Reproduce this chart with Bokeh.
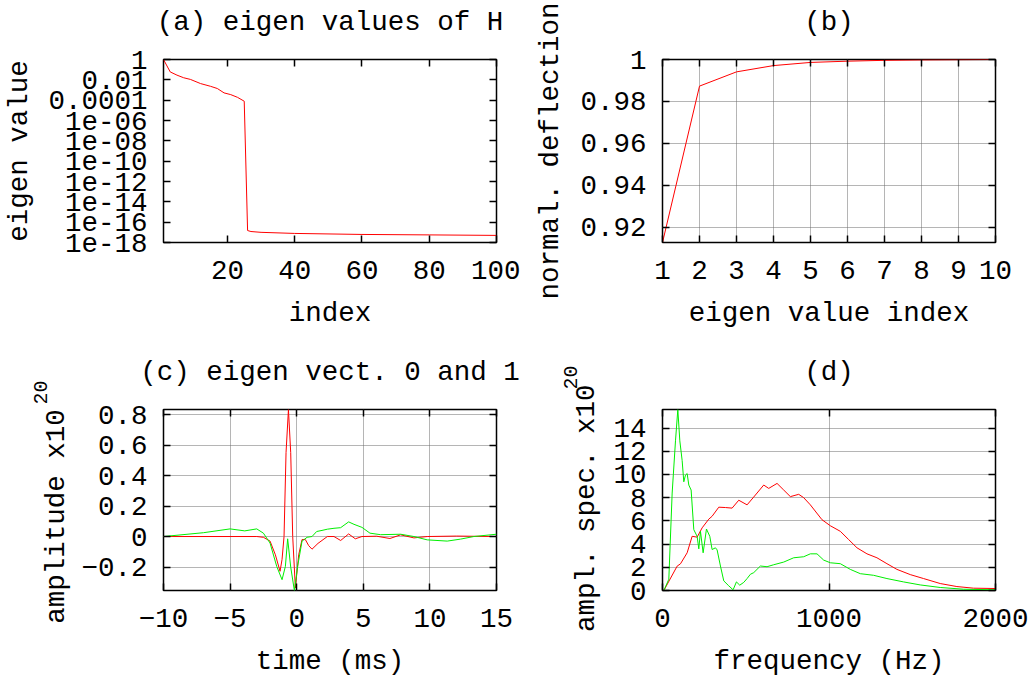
from bokeh.plotting import figure
from bokeh.models import (FixedTicker, LinearAxis, LogAxis, Range1d, Title,
                          BasicTickFormatter)
from bokeh.layouts import gridplot
from bokeh.embed import file_html
from bokeh.resources import INLINE

# ---------------- data ----------------
# (a) eigen values of H
a_index = [1, 3, 5, 7, 9, 12, 15, 17, 19, 21, 23, 25, 26, 27, 30, 40, 60, 80, 100]
a_value = [1.0, 0.06, 0.029, 0.016, 0.011, 0.0043, 0.0023, 0.0014, 5.2e-4, 3.5e-4,
           1.9e-4, 7.9e-5, 1.5e-17, 1.2e-17, 1.0e-17, 7.8e-18, 6.2e-18, 5.6e-18, 5.0e-18]

# (b) normalised deflection
b_index = [1, 2, 3, 4, 5, 6, 7, 8, 9, 10]
b_defl = [0.9127, 0.9873, 0.9941, 0.9971, 0.9986, 0.9992, 0.9996, 0.9998, 0.9999, 1.0]

# (c) eigen vectors 0 (red) and 1 (green)
c_time_0 = [-10, -3, -2.5, -2.0, -1.6, -1.25, -1.1, -0.95, -0.8, -0.62, -0.45, -0.3,
            -0.1, 0.15, 0.4, 0.65, 0.9, 1.15, 1.6, 2.3, 2.8, 3.3, 3.9, 4.4, 4.9,
            6.0, 7.0, 7.8, 8.8, 9.8, 12, 15]
c_amp_0 = [0, 0, -0.005, -0.03, -0.12, -0.228, -0.15, 0.0, 0.55, 0.833, 0.55, 0.0,
           -0.337, -0.12, -0.02, -0.02, -0.06, -0.083, -0.045, 0.0, 0.0, -0.026, 0.017,
           -0.015, 0.0, 0.002, -0.013, 0.011, -0.009, 0.0, 0.003, 0.0]
c_time_1 = [-10, -7, -5, -3.9, -3.0, -2.5, -2.0, -1.5, -1.1, -0.85, -0.68, -0.45,
            -0.175, 0.1, 0.4, 0.78, 1.15, 1.5, 1.9, 2.3, 2.8, 3.3, 3.9, 4.3, 4.9,
            5.5, 6.3, 7.8, 8.8, 9.8, 11.3, 12.3, 13.3, 15]
c_amp_1 = [0, 0.025, 0.05, 0.037, 0.05, 0.022, -0.043, -0.196, -0.283, -0.196,
           -0.015, -0.2, -0.354, -0.18, -0.03, -0.005, 0.0, 0.033, 0.04, 0.048, 0.054,
           0.058, 0.096, 0.08, 0.06, 0.022, 0.012, 0.015, 0.0, -0.022, -0.03, -0.017,
           0.0, 0.015]

# (d) amplitude spectra
d_freq_0 = [0, 8, 88, 108, 148, 178, 208, 238, 278, 298, 338, 378, 418, 458, 508,
            558, 608, 638, 688, 728, 768, 818, 848, 888, 958, 1008, 1068, 1118, 1168,
            1228, 1288, 1348, 1408, 1488, 1568, 1668, 1768, 1868, 2000]
d_spec_0 = [0, 0, 2.1, 2.3, 3.25, 4.67, 4.6, 5.4, 6.15, 6.4, 7.18, 7.15, 7.1, 7.78,
            7.38, 8.23, 9.09, 8.8, 9.23, 8.66, 8.09, 8.29, 8.0, 7.38, 6.1, 5.58, 5.1,
            4.39, 3.68, 3.16, 2.82, 2.31, 1.82, 1.37, 1.03, 0.6, 0.34, 0.2, 0.17]
d_freq_1 = [0, 8, 38, 58, 78, 92, 104, 118, 128, 138, 148, 158, 172, 188, 208, 218,
            228, 244, 264, 284, 298, 318, 328, 348, 368, 398, 424, 444, 464, 488, 508,
            528, 548, 588, 628, 668, 728, 788, 848, 888, 928, 968, 1008, 1068, 1128,
            1188, 1268, 1348, 1448, 1548, 1668, 1808, 2000]
d_spec_1 = [0, 0, 0.97, 8.4, 12.9, 15.6, 12.9, 11.2, 9.37, 9.94, 10.08, 9.09, 8.66,
            5.24, 4.67, 3.59, 5.1, 3.25, 5.3, 4.67, 3.53, 3.68, 3.5, 2.11, 0.83, 0.4,
            0.06, 0.74, 0.46, 0.7, 1.03, 1.4, 1.54, 2.11, 2.05, 2.22, 2.45, 2.82, 2.91,
            3.16, 3.16, 2.62, 2.39, 2.31, 1.82, 1.45, 1.31, 1.03, 0.74, 0.48, 0.26,
            0.11, 0.06]

# tick positions and labels
a_xticks = [20, 40, 60, 80, 100]
a_xlabels = ["20", "40", "60", "80", "100"]
a_yticks = [1.0, 1e-2, 1e-4, 1e-6, 1e-8, 1e-10, 1e-12, 1e-14, 1e-16, 1e-18]
a_ylabels = ["1", "0.01", "0.0001", "1e-06", "1e-08", "1e-10", "1e-12", "1e-14",
             "1e-16", "1e-18"]
b_xticks = [1, 2, 3, 4, 5, 6, 7, 8, 9, 10]
b_xlabels = ["1", "2", "3", "4", "5", "6", "7", "8", "9", "10"]
b_yticks = [0.92, 0.94, 0.96, 0.98, 1.0]
b_ylabels = ["0.92", "0.94", "0.96", "0.98", "1"]
c_xticks = [-10, -5, 0, 5, 10, 15]
c_xlabels = ["\u221210", "\u22125", "0", "5", "10", "15"]
c_yticks = [-0.2, 0.0, 0.2, 0.4, 0.6, 0.8]
c_ylabels = ["\u22120.2", "0", "0.2", "0.4", "0.6", "0.8"]
d_xticks = [0, 1000, 2000]
d_xlabels = ["0", "1000", "2000"]
d_yticks = [0, 2, 4, 6, 8, 10, 12, 14]
d_ylabels = ["0", "2", "4", "6", "8", "10", "12", "14"]

# ---------------- style ----------------
FONT = "Liberation Mono"
FS = "27.5px"
RED = "#ff0000"
GREEN = "#00ee00"
GRID = "#6a6a6a"


def text_style(ax, standoff, label_standoff):
    ax.major_label_text_font = FONT
    ax.major_label_text_font_size = FS
    ax.major_label_text_color = "black"
    ax.major_label_standoff = standoff
    ax.axis_label_text_font = FONT
    ax.axis_label_text_font_size = FS
    ax.axis_label_text_font_style = "normal"
    ax.axis_label_text_color = "black"
    ax.axis_label_standoff = label_standoff


def style_axis(ax, ticks, labels, standoff, label_standoff, mirror=False):
    ax.ticker = FixedTicker(ticks=ticks, minor_ticks=[])
    ax.major_tick_in = 7
    ax.major_tick_out = 0
    ax.minor_tick_in = 0
    ax.minor_tick_out = 0
    ax.major_tick_line_color = "black"
    ax.major_tick_line_width = 1.5
    ax.axis_line_color = None
    text_style(ax, standoff, label_standoff)
    if mirror:
        ax.major_label_text_font_size = "1px"
        ax.major_label_text_color = None
        ax.major_label_standoff = 0
    else:
        ax.major_label_overrides = dict(zip(ticks, labels))


def make(title, w, h, xr, yr, left, right, top, bottom, xticks, xlabels, yticks,
         ylabels, xlabel, ylabel, ylab_standoff=10, grid=True, ylog=False):
    p = figure(width=w, height=h, x_range=Range1d(*xr), y_range=Range1d(*yr),
               y_axis_type="log" if ylog else "linear", output_backend="svg",
               toolbar_location=None,
               min_border_left=left, min_border_right=right,
               min_border_top=top, min_border_bottom=bottom)
    p.outline_line_color = "black"
    p.outline_line_width = 1.5
    p.background_fill_color = "white"
    p.border_fill_color = "white"

    xa = p.xaxis[0]
    ya = p.yaxis[0]
    if ylog:
        ya.formatter = BasicTickFormatter()
    xa.axis_label = xlabel
    ya.axis_label = ylabel
    style_axis(xa, xticks, xlabels, 18, 16)
    style_axis(ya, yticks, ylabels, 16, ylab_standoff)

    # mirrored ticks on top; the panel title sits on this axis
    top_ax = LinearAxis(axis_label=title)
    style_axis(top_ax, xticks, xlabels, 0, 22, mirror=True)
    p.add_layout(top_ax, "above")
    right_ax = LogAxis() if ylog else LinearAxis()
    style_axis(right_ax, yticks, ylabels, 0, 0, mirror=True)
    p.add_layout(right_ax, "right")

    if grid:
        for g in (p.xgrid[0], p.ygrid[0]):
            g.grid_line_color = GRID
            g.grid_line_dash = "1 1"
            g.grid_line_width = 1
    else:
        p.xgrid.visible = False
        p.ygrid.visible = False
    return p


def superscript(p, text, offset, standoff):
    t = Title(text=text, align="right", offset=offset, standoff=standoff,
              text_font=FONT, text_font_size="20px", text_font_style="normal",
              text_color="black")
    p.add_layout(t, "left")


pa = make("(a) eigen values of H", 520, 340, (1, 100), (1e-18, 1.0),
          163, 24, 59, 98, a_xticks, a_xlabels, a_yticks, a_ylabels,
          "index", "eigen value", ylab_standoff=10, grid=False, ylog=True)
pa.line(a_index, a_value, line_color=RED, line_width=1)

pb = make("(b)", 511, 340, (1, 10), (0.9127, 1.0),
          142, 36, 59, 98, b_xticks, b_xlabels, b_yticks, b_ylabels,
          "eigen value index", "normal. deflection", ylab_standoff=11)
pb.line(b_index, b_defl, line_color=RED, line_width=1)

pc = make("(c) eigen vect. 0 and 1", 520, 339, (-10, 15), (-0.354, 0.833),
          163, 24, 69, 88, c_xticks, c_xlabels, c_yticks, c_ylabels,
          "time (ms)", "amplitude x10\u00a0\u00a0", ylab_standoff=6)
pc.line(c_time_0, c_amp_0, line_color=RED, line_width=1)
pc.line(c_time_1, c_amp_1, line_color=GREEN, line_width=1)
superscript(pc, "20", -29, -17)

pd = make("(d)", 511, 339, (0, 2000), (0, 15.6),
          142, 36, 69, 88, d_xticks, d_xlabels, d_yticks, d_ylabels,
          "frequency (Hz)", "ampl. spec. x10\u00a0", ylab_standoff=8)
pd.line(d_freq_0, d_spec_0, line_color=RED, line_width=1)
pd.line(d_freq_1, d_spec_1, line_color=GREEN, line_width=1)
superscript(pd, "20", -44, -17)

grid = gridplot([[pa, pb], [pc, pd]], toolbar_location=None)
open("out.html", "w").write(file_html(grid, INLINE))
